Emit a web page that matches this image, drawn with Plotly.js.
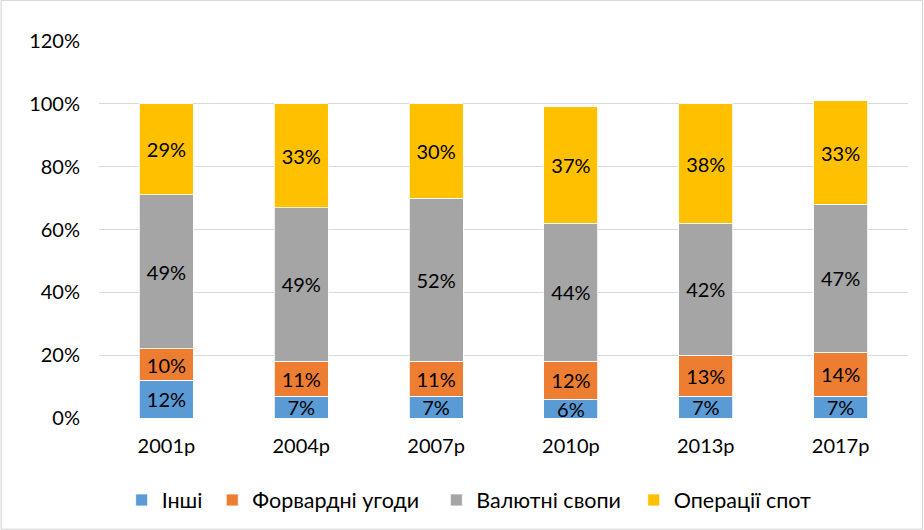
<!DOCTYPE html>
<html>
<head>
<meta charset="utf-8">
<script src="https://cdn.plot.ly/plotly-3.0.1.min.js"></script>
<style>html,body{margin:0;padding:0;background:#fff;}#chart{width:924px;height:530px;}</style>
</head>
<body>
<div id="chart"></div>
<script>
var categories = ["2001р", "2004р", "2007р", "2010р", "2013р", "2017р"];
var seriesNames = ["Інші", "Форвардні угоди", "Валютні свопи", "Операції спот"];
var inshi = [12, 7, 7, 6, 7, 7];
var forwards = [10, 11, 11, 12, 13, 14];
var swaps = [49, 49, 52, 44, 42, 47];
var spot = [29, 33, 30, 37, 38, 33];
var colors = ["#5B9BD5", "#ED7D31", "#A5A5A5", "#FFC000"];
var yTicks = [0, 20, 40, 60, 80, 100, 120];

var allValues = [inshi, forwards, swaps, spot];
var font = "Lato, 'Open Sans', sans-serif";
var legendIds = ["legend", "legend2", "legend3", "legend4"];
var legendX = [0.028, 0.14, 0.417, 0.661];

var traces = allValues.map(function (vals, i) {
  return {
    type: "bar",
    name: seriesNames[i],
    legend: legendIds[i],
    x: categories,
    y: vals,
    marker: { color: colors[i], line: { color: "#ffffff", width: 0.8 } },
    text: vals.map(function (v) { return v + "%"; }),
    textposition: "inside",
    insidetextanchor: "middle",
    textfont: { family: font, size: 20, color: "#000000" },
    hoverinfo: "skip"
  };
});

var layout = {
  width: 924,
  height: 530,
  barmode: "stack",
  bargap: 0.6,
  margin: { l: 99, r: 16, t: 41, b: 112, autoexpand: false },
  paper_bgcolor: "#ffffff",
  plot_bgcolor: "#ffffff",
  font: { family: font, size: 20, color: "#000000" },
  uniformtext: { mode: "show", minsize: 20 },
  showlegend: true,
  xaxis: {
    type: "category",
    showgrid: false,
    showline: false,
    ticks: "",
    ticklabelstandoff: 14,
    tickfont: { family: font, size: 20, color: "#000000" }
  },
  yaxis: {
    range: [0, 120],
    tickvals: yTicks,
    ticktext: yTicks.map(function (v) { return v + "%"; }),
    showgrid: true,
    gridcolor: "#d9d9d9",
    gridwidth: 1,
    zeroline: false,
    showline: false,
    ticks: "",
    ticklabelstandoff: 18,
    tickfont: { family: font, size: 20, color: "#000000" }
  },
  shapes: [{
    type: "rect", xref: "paper", yref: "paper",
    x0: -0.121, x1: 1.018, y0: -0.295, y1: 1.108,
    line: { color: "#d0d0d0", width: 1 }
  }]
};

legendIds.forEach(function (id, i) {
  layout[id] = {
    orientation: "h",
    x: legendX[i],
    xanchor: "left",
    y: -0.2175,
    yanchor: "middle",
    bgcolor: "rgba(0,0,0,0)",
    font: { family: font, size: 21.5, color: "#000000" },
    itemwidth: 30
  };
});

Plotly.newPlot("chart", traces, layout, { displayModeBar: false, staticPlot: true });
</script>
</body>
</html>
